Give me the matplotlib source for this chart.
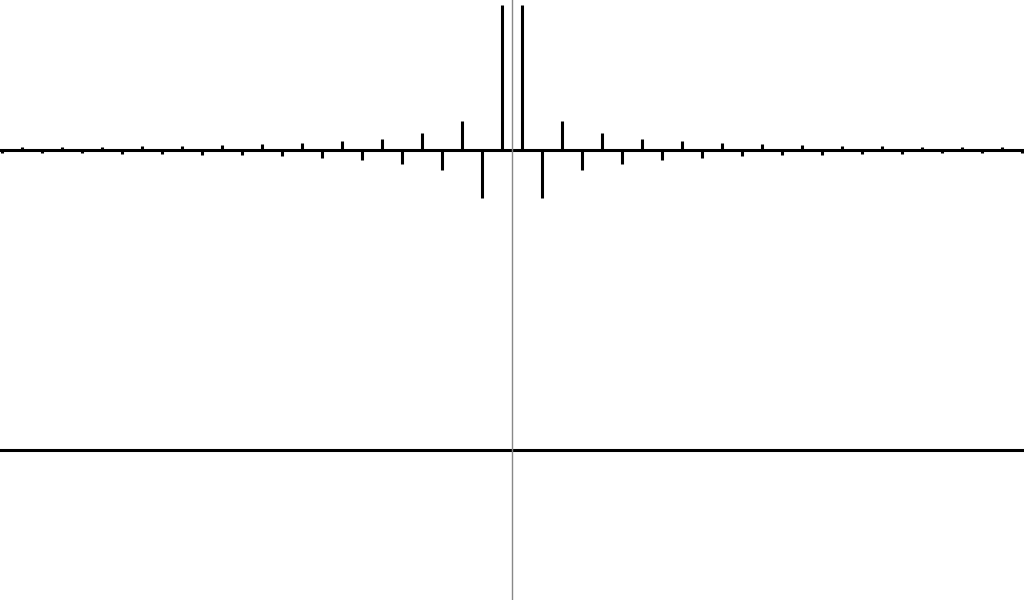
import matplotlib
matplotlib.use("Agg")
import matplotlib.pyplot as plt
import numpy as np

# Harmonic numbers (odd) and amplitudes (positive side)
harmonics_pos = [1, 3, 5, 7, 9, 11, 13, 15, 17, 19, 21, 23, 25,
                 27, 29, 31, 33, 35, 37, 39, 41, 43, 45, 47, 49, 51]
real_pos = [1.0, -0.33, 0.2, -0.14, 0.115, -0.095, 0.077, -0.067, 0.059,
            -0.053, 0.048, -0.043, 0.04, -0.037, 0.034, -0.032, 0.03,
            -0.028, 0.027, -0.026, 0.024, -0.023, 0.022, -0.021, 0.02, -0.02]

freqs = [-h for h in harmonics_pos[::-1]] + harmonics_pos
real_vals = real_pos[::-1] + real_pos
imag_vals = [0.0 for _ in freqs]

fig = plt.figure(figsize=(10.24, 6), dpi=100)
ax1 = fig.add_axes([0, 0.5, 1, 0.5])
ax2 = fig.add_axes([0, 0.0, 1, 0.5])

for ax, vals in ((ax1, real_vals), (ax2, imag_vals)):
    ax.axhline(0, color="black", lw=2.2, zorder=2)
    ax.vlines(freqs, 0, vals, color="black", lw=2.2, zorder=3)
    ax.axvline(0, color="#888888", lw=1.0, zorder=4)
    ax.set_xlim(-51.2, 51.2)
    ax.set_ylim(-1.034, 1.034)
    ax.axis("off")

fig.savefig("out.png", dpi=100)
